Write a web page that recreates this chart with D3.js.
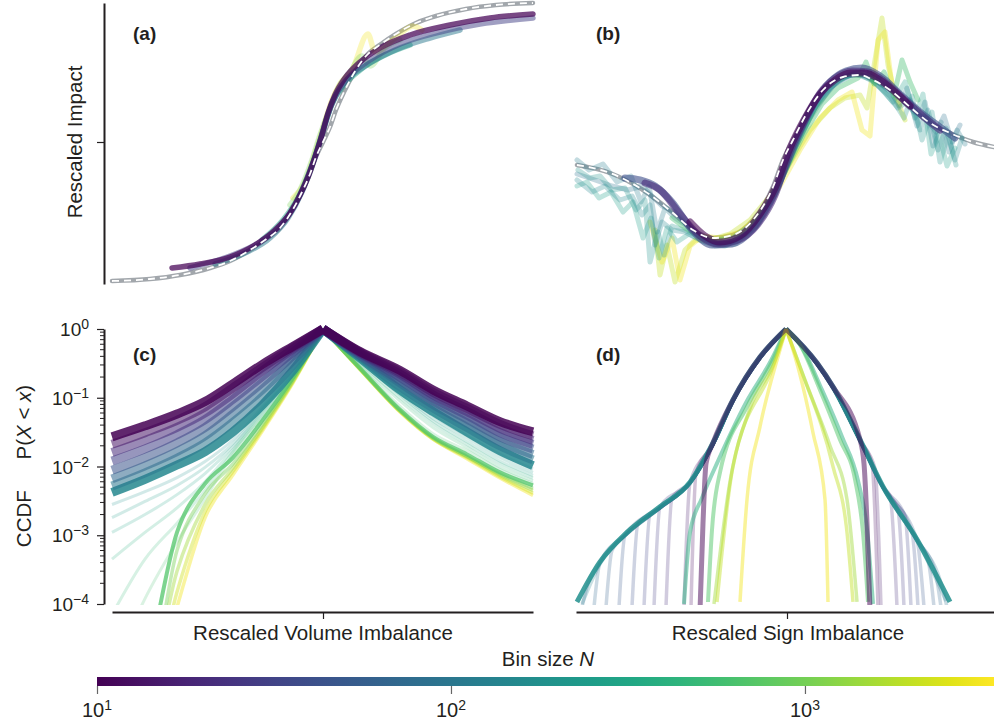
<!DOCTYPE html>
<html>
<head>
<meta charset="utf-8">
<script src="https://cdn.jsdelivr.net/npm/d3@7"></script>
<style>
  body { margin: 0; background: #fff; }
  svg { display: block; font-family: "Liberation Sans", Arial, sans-serif; }
</style>
</head>
<body>
<svg id="chart" width="994" height="724"></svg>
<script>
// ---- colour bar ----
const binMin = 10, binMax = 3420;
const cbarTicks = [10, 100, 1000];

// ---- (a) rescaled impact vs volume imbalance ----
const impactFit = [[-105.5,-69.5],[-86.5,-68.5],[-71.5,-66.5],[-56.5,-63],[-46.5,-59.5],[-36.5,-54],[-29,-49],[-21.5,-43],[-15.5,-34.5],[-10.5,-25],[-6.5,-16],[-3.5,-7.5],[0,0],[3.5,7.5],[6.5,16],[10.5,25],[15.5,34.5],[21.5,43],[29,49],[36.5,54],[46.5,59.5],[56.5,63],[71.5,66.5],[86.5,68.5],[105,69.5]];
const impactN = [3000, 1000, 300, 100, 30, 10];
const impactPts = [
  [[-15,-28],[-9,-20],[-3.5,-4],[0,7],[4.5,21],[8.5,29],[14.5,36],[22.5,54],[26,45],[36,52],[45,58],[49.5,56]],
  [[-16.5,-31.5],[-11.5,-24],[-5.5,-9],[-1.5,3.5],[3.5,17],[7.5,27],[13.5,35],[19.5,43],[23.5,38],[31,47],[38.5,51]],
  [[-30.5,-49],[-20,-39],[-12.5,-28],[-5.5,-11.5],[-0.5,4],[4.5,19],[11,29],[18.5,36],[31,43.5],[43.5,48.5]],
  [[-54,-61],[-39,-55.5],[-26.5,-48],[-17.5,-38],[-10.5,-25],[-5,-10.5],[-0.5,3.5],[4.5,19.5],[11,30],[21,38],[36,46],[53.5,52],[68.5,56]],
  [[-66.5,-63],[-46.5,-57],[-31.5,-50],[-21.5,-42],[-14,-31.5],[-7.5,-17],[-2.5,-3],[1.5,11],[6,22.5],[13.5,33],[23.5,41],[38.5,49],[58.5,55],[78.5,59],[105,62]],
  [[-75.5,-63],[-61.5,-61],[-46.5,-57.5],[-34,-51.5],[-24,-44],[-16.5,-35.5],[-11.5,-26.5],[-7.5,-17.5],[-4,-7.5],[-0.5,3.5],[2.5,14.5],[6,23.5],[11,32],[18.5,40],[28.5,47],[43.5,53.5],[63.5,58.5],[83.5,62],[105,64]]
];

// ---- (b) rescaled impact vs sign imbalance ----
const signFit = [[-104,-11.5],[-87.5,-15.5],[-71,-24],[-56,-35.5],[-46,-44],[-36,-48],[-26,-46.5],[-16,-39],[-6,-22.5],[-1,-9],[4,1],[11,14.5],[19,26],[29,32.5],[37.5,33.5],[44,31],[52.5,26],[62.5,17.5],[72.5,9.5],[82.5,4.5],[94,0],[104.5,-2.5]];
const signN = [2000, 3000, 250, 90, 120, 150, 200, 600, 40, 20, 10];
const signPts = [
  [[-65,-44],[-62.5,-66.5],[-59,-51.5],[-55,-70],[-50,-54],[-45,-49],[-37.5,-49],[-27.5,-46],[-17.5,-39],[-7.5,-27],[2.5,-10.5],[12.5,6],[22.5,17],[30,22],[37.5,23.5],[41,17],[45,41],[48.5,62],[51.5,38.5],[55,23.5],[60,11]],
  [[-67.5,-40],[-61.5,-60],[-56.5,-48],[-52.5,-69],[-47.5,-52],[-41.5,-47],[-32.5,-48],[-22.5,-45],[-12.5,-36.5],[-2.5,-22],[7.5,-4],[17.5,12],[26.5,21],[33.5,25],[38.5,6],[42.5,3],[46.5,51],[50,55],[53.5,28.5],[57.5,18.5]],
  [[-104,-22],[-99,-20],[-93,-28],[-87,-25],[-81,-35],[-76,-30],[-71,-48],[-67,-38],[-63,-58],[-59,-43],[-54,-50],[-48,-46],[-40,-50],[-30,-52],[-20,-46],[-10,-33],[0,-12],[10,9],[20,25],[30,33],[40,34],[47,28],[54,20],[60,30],[65,12],[69,24],[73,-6],[77,4],[81,-12],[85,-3]],
  [[-104,-16],[-95,-19],[-86.5,-22],[-78.5,-24],[-71.5,-22],[-66.5,-27],[-61.5,-32],[-55,-35],[-47.5,-43],[-37.5,-50],[-27.5,-50.5],[-17.5,-44.5],[-7.5,-29],[2.5,-8],[12.5,12],[22.5,27],[32.5,34],[42.5,33],[51.5,26],[58.5,21],[64.5,15],[70.5,12],[75.5,5],[79.5,13],[83.5,0],[87.5,8.5]],
  [[-104,-9],[-98,-14],[-91,-11],[-84,-20],[-77,-17],[-72,-30],[-68,-22],[-64,-45],[-60,-33],[-55,-38],[-49,-42],[-42,-48],[-33,-51],[-23,-49],[-13,-40],[-3,-22],[7,2],[17,21],[27,31],[37,35],[45,32],[52,27],[57,18],[61,27],[66,8],[70,20],[74,-2],[78,10],[82,-5],[86,6],[90,-1]],
  [[-104,-19],[-96.5,-25],[-90,-22],[-82.5,-29],[-76.5,-27],[-71.5,-36.5],[-67.5,-31.5],[-65,-51.5],[-61.5,-40],[-56.5,-44],[-50,-45],[-42.5,-49],[-35,-52],[-25,-51],[-15,-43],[-5,-26.5],[5,-3],[15,17],[25,29],[35,34],[43.5,31],[50.5,24],[56.5,17],[62.5,21],[67.5,6],[71.5,16],[76.5,-4],[80.5,7],[85,-9],[88.5,2]],
  [[-103.5,-14],[-97.5,-18],[-92.5,-17],[-86.5,-24],[-80,-23],[-74.5,-34],[-70,-29],[-67.5,-60],[-63.5,-45],[-60.5,-56.5],[-56.5,-42],[-50.5,-44],[-43.5,-47],[-34.5,-51],[-24.5,-50],[-14.5,-42],[-4.5,-25],[5.5,-2],[15.5,18],[25.5,30],[35.5,35],[44.5,30],[52.5,23],[59.5,12],[63.5,23],[68.5,1],[73.5,15],[77.5,-10],[81.5,3.5],[85.5,-11.5]],
  [[-56.5,-38],[-50,-43],[-42.5,-47],[-35,-49],[-26,-48],[-17.5,-42],[-8.5,-31],[0.5,-14],[9.5,4],[18.5,19],[26.5,27],[32.5,30],[36.5,32],[40.5,40],[44.5,29],[49.5,35],[54.5,23],[58.5,41],[62.5,30],[66.5,21]],
  [[-80,-18],[-72.5,-19],[-65,-22],[-56.5,-30],[-46.5,-44],[-36.5,-51.5],[-26.5,-51],[-16.5,-44],[-7.5,-30.5],[0,-13],[7.5,5],[15,20],[22.5,30],[30.5,35.5],[38.5,37],[47.5,33],[57.5,24],[67.5,15],[77.5,7.5],[85,2]],
  [[-70,-20.5],[-62.5,-24],[-52.5,-36],[-42.5,-47],[-33.5,-51],[-23.5,-49],[-13.5,-41],[-5,-26.5],[2.5,-5],[10,11],[17.5,24.5],[25,32],[33.5,35.5],[41.5,35],[50,30],[60,21],[70,12],[77.5,6]],
  [[-47.5,-40],[-40,-47],[-32.5,-50],[-22.5,-47],[-12.5,-36],[-5,-23],[2.5,-3],[10,12],[17.5,24],[25,31],[32.5,34.5],[40,34.5],[47.5,31],[55,25],[62.5,18]]
];

// ---- (c) CCDF of volume imbalance ----
const ccdfX = [-105.5, -89, -73, -59, -45, -30, -15, 0, 18.5, 38.5, 55, 72, 88.5, 105];
const ccdfFanN = [600, 500, 400, 320, 250, 200];
const ccdfFanY = [
  [0.00001,0.00012,0.0008,0.0034,0.015,0.052,0.197,1,0.285,0.075,0.03,0.017,0.009,0.0057],
  [0.00007,0.00045,0.0015,0.0045,0.0165,0.057,0.2,1,0.3,0.09,0.037,0.019,0.0098,0.0062],
  [0.00045,0.0011,0.0025,0.006,0.0177,0.061,0.21,1,0.32,0.1,0.042,0.021,0.011,0.0068],
  [0.0011,0.002,0.0039,0.0079,0.0195,0.066,0.22,1,0.34,0.11,0.046,0.023,0.012,0.0074],
  [0.0018,0.0031,0.0053,0.0097,0.0215,0.07,0.23,1,0.35,0.115,0.05,0.026,0.0135,0.0082],
  [0.0028,0.0043,0.0069,0.0118,0.0245,0.075,0.235,1,0.36,0.12,0.055,0.028,0.015,0.0092]
];
const ccdfTailN = [3000, 2200, 1500, 1000, 700];
const ccdfTailY = [
  [0.000001,0.000002,0.00009,0.0018,0.0076,0.034,0.165,1,0.26,0.062,0.025,0.013,0.0068,0.0038],
  [0.000001,0.000002,0.00015,0.0022,0.0085,0.036,0.17,1,0.26,0.063,0.025,0.0135,0.0071,0.0041],
  [0.000001,0.000003,0.0003,0.0028,0.0095,0.038,0.175,1,0.26,0.064,0.026,0.014,0.0075,0.0045],
  [0.000001,0.000003,0.0006,0.004,0.011,0.042,0.18,1,0.265,0.065,0.026,0.014,0.0078,0.0048],
  [0.000001,0.00001,0.0011,0.0056,0.0135,0.048,0.195,1,0.27,0.067,0.027,0.015,0.0082,0.0053]
];
const ccdfBandN = [150, 100, 70, 45, 30, 20, 14, 10];
const ccdfBandY = [
  [0.0042,0.0065,0.0105,0.0165,0.032,0.08,0.25,1,0.38,0.13,0.063,0.032,0.017,0.0103],
  [0.0052,0.0081,0.0132,0.022,0.044,0.105,0.3,1,0.395,0.145,0.071,0.037,0.02,0.0125],
  [0.0066,0.0102,0.0165,0.028,0.058,0.135,0.35,1,0.41,0.165,0.08,0.043,0.023,0.015],
  [0.0088,0.0135,0.022,0.037,0.075,0.17,0.41,1,0.42,0.18,0.09,0.049,0.027,0.018],
  [0.012,0.018,0.029,0.048,0.095,0.21,0.46,1,0.44,0.2,0.1,0.056,0.031,0.021],
  [0.016,0.024,0.037,0.06,0.115,0.25,0.51,1,0.45,0.22,0.11,0.063,0.036,0.024],
  [0.021,0.031,0.047,0.074,0.14,0.28,0.54,1,0.46,0.235,0.12,0.07,0.041,0.028],
  [0.027,0.039,0.058,0.088,0.16,0.31,0.56,1,0.47,0.25,0.13,0.076,0.045,0.032]
];

// ---- (d) CCDF of sign imbalance ----
const signCcdfN = [120, 85, 70, 60, 50, 40, 33, 27, 22, 15, 12, 180, 400, 700, 1500, 2000, 3000, 10];
const signCcdfX = [
  [-102,-93,-79.5,-63,-48,-36.5,-26.5,-13,0,15.5,23.5,37,48.5,65.5,80],
  [-102,-99,-93,-79.5,-63,-48,-36.5,-26.5,-13,0,15.5,23.5,37,48.5,65.5,78,80.5],
  [-96,-93,-79.5,-63,-48,-36.5,-26.5,-13,0,15.5,23.5,37,48.5,65.5,74.5,77.5],
  [-90,-87,-79.5,-63,-48,-36.5,-26.5,-13,0,15.5,23.5,37,48.5,65.5,71,74],
  [-83.5,-80.5,-63,-48,-36.5,-26.5,-13,0,15.5,23.5,37,48.5,65.5,69],
  [-77,-74,-63,-48,-36.5,-26.5,-13,0,15.5,23.5,37,48.5,63,66],
  [-71,-68,-63,-48,-36.5,-26.5,-13,0,15.5,23.5,37,48.5,59.5,62.5],
  [-66,-63,-48,-36.5,-26.5,-13,0,15.5,23.5,37,48.5,56,59],
  [-60,-57,-48,-36.5,-26.5,-13,0,15.5,23.5,37,48.5,52,55.5],
  [-51,-48,-36.5,-26.5,-13,0,15.5,23.5,37,44.5,47.5],
  [-47.5,-45,-36.5,-26.5,-13,0,15.5,23.5,37,43,46],
  [-104.5,-93,-79.5,-63,-48,-36.5,-26.5,-13,0,15.5,23.5,37,48.5,65.5,82],
  [-51,-48,-42,-34,-20,-7,0,7.5,18,28,36,40.5,43.5],
  [-39,-37,-33,-19.5,-6.5,0,7,17,27,34.5,38.5,41],
  [-36,-28,-18,-6,0,9.5,22,30.5,35.5],
  [-34.5,-26.5,-6.5,0,7,23.5,30.5,33.5],
  [-23,-19.5,-13,-3,0,3.5,13.5,19.5,21],
  [-43,-41.5,-40,-36.5,-26.5,-13,0,15.5,23.5,37,39,40.5,42]
];
const signCcdfY = [
  [0.0001,0.00038,0.00105,0.0025,0.0058,0.021,0.09,0.38,1,0.31,0.14,0.024,0.005,0.00085,0.00011],
  [0.00009,0.0002,0.0004,0.00105,0.0025,0.0058,0.021,0.09,0.38,1,0.31,0.14,0.024,0.005,0.00085,0.00018,0.00009],
  [0.00009,0.0004,0.00105,0.0025,0.0058,0.021,0.09,0.38,1,0.31,0.14,0.024,0.005,0.00085,0.0003,0.00009],
  [0.00009,0.0006,0.00105,0.0025,0.0058,0.021,0.09,0.38,1,0.31,0.14,0.024,0.005,0.00085,0.00044,0.00009],
  [0.00009,0.001,0.0025,0.0058,0.021,0.09,0.38,1,0.31,0.14,0.024,0.005,0.00085,0.00009],
  [0.00009,0.0015,0.0025,0.0058,0.021,0.09,0.38,1,0.31,0.14,0.024,0.005,0.0011,0.00009],
  [0.00009,0.002,0.0025,0.0058,0.021,0.09,0.38,1,0.31,0.14,0.024,0.005,0.0019,0.00009],
  [0.00009,0.0026,0.0058,0.021,0.09,0.38,1,0.31,0.14,0.024,0.005,0.0023,0.00009],
  [0.00009,0.0035,0.0058,0.021,0.09,0.38,1,0.31,0.14,0.024,0.005,0.0038,0.00009],
  [0.00009,0.0058,0.021,0.09,0.38,1,0.31,0.14,0.024,0.0094,0.00009],
  [0.00009,0.008,0.021,0.09,0.38,1,0.31,0.14,0.024,0.011,0.00009],
  [0.000107,0.00041,0.0011,0.0026,0.0059,0.022,0.093,0.39,1,0.32,0.144,0.0246,0.0051,0.00087,0.000107],
  [0.0001,0.0011,0.0035,0.012,0.085,0.37,1,0.57,0.13,0.027,0.0062,0.0012,0.0001],
  [0.000107,0.0012,0.0082,0.074,0.355,1,0.59,0.13,0.0245,0.0065,0.0011,0.000107],
  [0.0001,0.006,0.07,0.32,1,0.18,0.02,0.0033,0.000107],
  [0.000107,0.01,0.28,1,0.28,0.01,0.0011,0.000107],
  [0.000107,0.0033,0.038,0.5,1,0.5,0.031,0.0033,0.000107],
  [0.00008,0.0015,0.011,0.022,0.093,0.39,1,0.32,0.144,0.0246,0.011,0.0015,0.00008]
];

const ink = "#231f20";
const svg = d3.select("#chart");

const colorT = d3.scaleLog().domain([binMin, binMax]).range([0, 1]).clamp(true);
const colorN = n => d3.interpolateViridis(colorT(n));

const defs = svg.append("defs");
defs.append("clipPath").attr("id", "clipC").append("rect")
    .attr("x", 110).attr("y", 318).attr("width", 425).attr("height", 287);
defs.append("clipPath").attr("id", "clipD").append("rect")
    .attr("x", 574).attr("y", 318).attr("width", 420).attr("height", 287);

function drawPath(g, pts, line, color, width, opacity) {
    g.append("path")
        .datum(pts)
        .attr("d", line)
        .attr("fill", "none")
        .attr("stroke", color)
        .attr("stroke-width", width)
        .attr("stroke-opacity", opacity)
        .attr("stroke-linejoin", "round")
        .attr("stroke-linecap", "round");
}

// CCDF curves have a cusp at the centre: draw each side on its own
function drawCusp(g, pts, line, color, width, opacity) {
    const left = pts.filter(p => p[0] <= 0);
    const right = pts.filter(p => p[0] >= 0);
    const path = d3.path();
    g.append("path")
        .attr("d", line(left) + line(right))
        .attr("fill", "none")
        .attr("stroke", color)
        .attr("stroke-width", width)
        .attr("stroke-opacity", opacity)
        .attr("stroke-linejoin", "round")
        .attr("stroke-linecap", "butt");
}

function fitCurve(g, pts, line, layer) {
    if (layer === "under") drawPath(g, pts, line, "#a2a7ac", 4.5, 1);
    else g.append("path").datum(pts).attr("d", line)
        .attr("fill", "none").attr("stroke", "#fff").attr("stroke-width", 1.8)
        .attr("stroke-dasharray", "7,5");
}

function powLabel(g, x, y, exp, anchor, size, supSize) {
    const t = g.append("text")
        .attr("x", x).attr("y", y)
        .attr("text-anchor", anchor)
        .attr("font-size", size)
        .attr("fill", ink);
    t.append("tspan").text("10");
    t.append("tspan").attr("dy", -7).attr("font-size", supSize).text(exp);
}

function styleAxis(g) {
    g.select(".domain").attr("stroke", ink).attr("stroke-width", 2);
    g.selectAll(".tick line").attr("stroke", ink).attr("stroke-width", 1.2);
}

// ---------- panel (a) ----------
const xA = d3.scaleLinear().domain([-105.5, 105]).range([112, 533]);
const yImp = d3.scaleLinear().domain([-71, 69.5]).range([284, 3]);
const lineA = d3.line().x(d => xA(d[0])).y(d => yImp(d[1])).curve(d3.curveMonotoneX);
const gA = svg.append("g");

fitCurve(gA, impactFit, lineA, "under");
impactN.forEach((n, i) => {
    let op = 0.5;
    if (n === 10) op = 0.72;
    else if (n >= 1000) op = 0.3;
    drawPath(gA, impactPts[i], lineA, colorN(n), 5.5, op);
});
fitCurve(gA, impactFit, lineA, "over");

const axA = svg.append("g")
    .attr("transform", "translate(104,0)")
    .call(d3.axisLeft(yImp).tickValues([0]).tickFormat("").tickSize(7).tickSizeOuter(0));
styleAxis(axA);

svg.append("text")
    .attr("transform", "translate(82,142) rotate(-90)")
    .attr("text-anchor", "middle")
    .attr("font-size", 20.5)
    .attr("fill", ink)
    .text("Rescaled Impact");

// ---------- panel (b) ----------
const xB = d3.scaleLinear().domain([-104.5, 104.5]).range([576, 994]);
const lineB = d3.line().x(d => xB(d[0])).y(d => yImp(d[1])).curve(d3.curveMonotoneX);
const lineBraw = d3.line().x(d => xB(d[0])).y(d => yImp(d[1]));
const gB = svg.append("g");

fitCurve(gB, signFit, lineB, "under");
signN.forEach((n, i) => {
    let w = 5, op = 0.28, ln = lineBraw;
    if (n <= 40) { w = 7; op = n === 10 ? 0.6 : 0.6; ln = lineB; }
    else if (n >= 2000) { op = 0.35; }
    else if (n === 600) { op = 0.4; }
    drawPath(gB, signPts[i], ln, colorN(n), w, op);
});
fitCurve(gB, signFit, lineB, "over");

// ---------- panel (c) ----------
const xC = d3.scaleLinear().domain([-105.5, 105]).range([112, 533]);
const yLog = d3.scaleLog().domain([1e-4, 1]).range([604, 329]);
const lineC = d3.line().x(d => xC(d[0])).y(d => yLog(d[1])).curve(d3.curveMonotoneX);
const gC = svg.append("g").attr("clip-path", "url(#clipC)");
const withX = ys => ys.map((y, i) => [ccdfX[i], y]);

ccdfFanN.forEach((n, i) => drawCusp(gC, withX(ccdfFanY[i]), lineC, colorN(n), 3, 0.2));
ccdfTailN.forEach((n, i) => drawCusp(gC, withX(ccdfTailY[i]), lineC, colorN(n), n === 700 ? 4 : 3.5, n === 700 ? 0.75 : 0.42));
ccdfBandN.forEach((n, i) => drawCusp(gC, withX(ccdfBandY[i]), lineC, colorN(n), 9, n === 10 || n === 150 ? 0.85 : 0.55));

const axCy = svg.append("g")
    .attr("transform", "translate(104,0)")
    .call(d3.axisLeft(yLog).tickValues([1, 0.1, 0.01, 0.001, 0.0001]).tickFormat("").tickSize(7).tickSizeOuter(0));
styleAxis(axCy);

const minorVals = [];
[-4, -3, -2, -1].forEach(e => d3.range(2, 10).forEach(m => minorVals.push(m * Math.pow(10, e))));
svg.append("g").selectAll("line")
    .data(minorVals)
    .join("line")
    .attr("x1", 100).attr("x2", 104)
    .attr("y1", d => yLog(d)).attr("y2", d => yLog(d))
    .attr("stroke", ink).attr("stroke-width", 1);

[0, -1, -2, -3, -4].forEach(e => {
    powLabel(svg, 89, yLog(Math.pow(10, e)) + 7, e === 0 ? "0" : "\u2212" + (-e), "end", 19, 14);
});

const axCx = svg.append("g")
    .attr("transform", "translate(0,612)")
    .call(d3.axisBottom(xC).tickValues([0]).tickFormat("").tickSize(7).tickSizeOuter(0));
styleAxis(axCx);

const ccdfTitle = svg.append("text")
    .attr("transform", "translate(31,466) rotate(-90)")
    .attr("text-anchor", "middle")
    .attr("font-size", 20.5)
    .attr("fill", ink);
ccdfTitle.append("tspan").text("CCDF\u2003\u2002P(");
ccdfTitle.append("tspan").attr("font-style", "italic").text("X");
ccdfTitle.append("tspan").text(" < ");
ccdfTitle.append("tspan").attr("font-style", "italic").text("x");
ccdfTitle.append("tspan").text(")");

// ---------- panel (d) ----------
const xD = d3.scaleLinear().domain([-105, 104]).range([576, 994]);
const lineD = d3.line().x(d => xD(d[0])).y(d => yLog(d[1])).curve(d3.curveMonotoneX);
const gD = svg.append("g").attr("clip-path", "url(#clipD)");

signCcdfN.forEach((n, i) => {
    const pts = signCcdfX[i].map((x, j) => [x, signCcdfY[i][j]]);
    let w = 3.5, op = 0.25;
    if (n === 180) { w = 5; op = 0.85; }
    else if (n === 10) { w = 5; op = 0.5; }
    else if (n === 400 || n === 700) { w = 4; op = 0.5; }
    else if (n >= 1500) { w = 3.5; op = 0.45; }
    drawCusp(gD, pts, lineD, colorN(n), w, op);
});

const axDx = svg.append("g")
    .attr("transform", "translate(0,612)")
    .call(d3.axisBottom(xD).tickValues([0.5]).tickFormat("").tickSize(7).tickSizeOuter(0));
styleAxis(axDx);

// ---------- panel labels and axis titles ----------
[["(a)", 133, 40], ["(b)", 596, 40], ["(c)", 133, 361], ["(d)", 596, 361]].forEach(([t, x, y]) => {
    svg.append("text").attr("x", x).attr("y", y)
        .attr("font-size", 19).attr("font-weight", "bold").attr("fill", ink).text(t);
});

svg.append("text").attr("x", 323).attr("y", 640).attr("text-anchor", "middle")
    .attr("font-size", 20.5).attr("fill", ink).text("Rescaled Volume Imbalance");
svg.append("text").attr("x", 788).attr("y", 640).attr("text-anchor", "middle")
    .attr("font-size", 20.5).attr("fill", ink).text("Rescaled Sign Imbalance");

const binTitle = svg.append("text").attr("x", 548).attr("y", 666).attr("text-anchor", "middle")
    .attr("font-size", 20.5).attr("fill", ink);
binTitle.append("tspan").text("Bin size ");
binTitle.append("tspan").attr("font-style", "italic").text("N");

// ---------- colour bar ----------
const cbX = d3.scaleLog().domain([binMin, binMax]).range([97, 994]);
const grad = defs.append("linearGradient").attr("id", "viridisGrad")
    .attr("x1", "0%").attr("x2", "100%").attr("y1", "0%").attr("y2", "0%");
d3.range(0, 1.0001, 0.05).forEach(t => {
    grad.append("stop").attr("offset", (t * 100) + "%").attr("stop-color", d3.interpolateViridis(t));
});
svg.append("rect").attr("x", 97).attr("y", 677).attr("width", 994 - 97).attr("height", 9)
    .attr("fill", "url(#viridisGrad)");

const cbAxis = svg.append("g")
    .attr("transform", "translate(0,686)")
    .call(d3.axisBottom(cbX).tickValues(cbarTicks).tickFormat("").tickSize(8).tickSizeOuter(0));
cbAxis.select(".domain").remove();
cbAxis.selectAll(".tick line").attr("stroke", "#666").attr("stroke-width", 1.2);

cbarTicks.forEach(v => {
    powLabel(svg, cbX(v), 717, String(Math.round(Math.log10(v))), "middle", 20, 14);
});
</script>
</body>
</html>
